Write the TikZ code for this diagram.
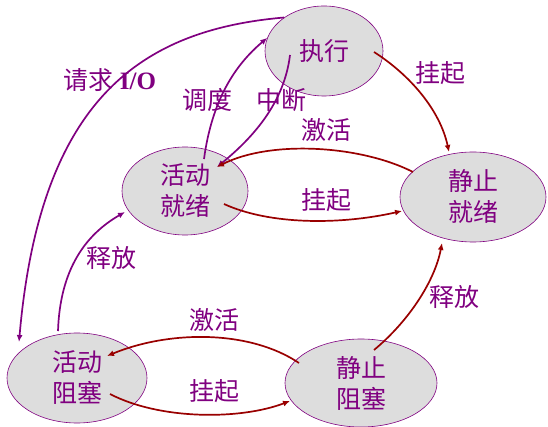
\documentclass[tikz,border=0pt]{standalone}
\usepackage{fontspec}
\setmainfont{Liberation Serif}
\newfontfamily\cjk{Noto Sans CJK SC}
\usetikzlibrary{shapes.geometric,arrows.meta}
\definecolor{pur}{HTML}{800080}
\definecolor{dred}{HTML}{990000}
\definecolor{fillg}{HTML}{DDDDDD}
\begin{document}
\begin{tikzpicture}[x=1pt,y=-1pt,
  state/.style={ellipse,draw=pur,line width=0.6pt,fill=fillg,text=pur,inner sep=0pt,
    font=\cjk\fontsize{25}{31}\selectfont,align=center},
  lab/.style={text=pur,inner sep=0pt,font=\cjk\fontsize{25}{30}\selectfont},
  parr/.style={draw=pur,line width=1.7pt,-{Latex[length=7pt,width=6pt]}},
  rarr/.style={draw=dred,line width=1.7pt,-{Latex[length=7pt,width=6pt]}}]
\useasboundingbox (0,0) rectangle (548,427);
\node[state,minimum width=118pt,minimum height=90pt] (exec) at (324,51) {执行};
\node[state,minimum width=126pt,minimum height=88pt] (ready) at (185,191) {活动\\就绪};
\node[state,minimum width=146pt,minimum height=90pt] (sready) at (473,197) {静止\\就绪};
\node[state,minimum width=140pt,minimum height=90pt] (block) at (77,378) {活动\\阻塞};
\node[state,minimum width=152pt,minimum height=88pt] (sblock) at (361,383) {静止\\阻塞};

\node[lab] (l1) at (110,80) {请求\hspace{6pt}{\rmfamily\bfseries I/O}};
\node[lab] (l2) at (207,100) {调度};
\node[lab] (l3) at (281,100) {中断};
\node[lab] (l4) at (440,73) {挂起};
\node[lab] (l5) at (326,130) {激活};
\node[lab] (l6) at (326,200) {挂起};
\node[lab] (l7) at (111,258) {释放};
\node[lab] (l8) at (454,297) {释放};
\node[lab] (l9) at (214,320) {激活};
\node[lab] (l10) at (214,391) {挂起};

% purple
\draw[parr] (exec.140) .. controls (140,30) and (40,100) .. ([shift={(-58,-36)}]block.center);
\draw[parr] ([shift={(19,-32)}]ready.center) .. controls (212,100) and (235,65) .. (exec.167);
\draw[parr] ([shift={(-34,4)}]exec.center) .. controls (284,105) and (250,140) .. ([shift={(32,-24)}]ready.center);
\draw[parr] ([shift={(-19,-47)}]block.center) .. controls (60,270) and (85,235) .. ([shift={(-60,21)}]ready.center);
% red
\draw[rarr] ([shift={(50,1)}]exec.center) .. controls (410,75) and (440,110) .. ([shift={(-24,-45)}]sready.center);
\draw[rarr] ([shift={(-60,-25)}]sready.center) .. controls (360,145) and (270,140) .. ([shift={(32,-24)}]ready.center);
\draw[rarr] ([shift={(39,13)}]ready.center) .. controls (270,225) and (340,225) .. ([shift={(-71,14)}]sready.center);
\draw[rarr] ([shift={(13,-33)}]sblock.center) .. controls (410,320) and (435,280) .. ([shift={(-31,46)}]sready.center);
\draw[rarr] ([shift={(-62,-20)}]sblock.center) .. controls (250,330) and (170,330) .. ([shift={(30,-22)}]block.center);
\draw[rarr] ([shift={(33,16)}]block.center) .. controls (160,420) and (240,420) .. ([shift={(-71,18)}]sblock.center);
\end{tikzpicture}
\end{document}
